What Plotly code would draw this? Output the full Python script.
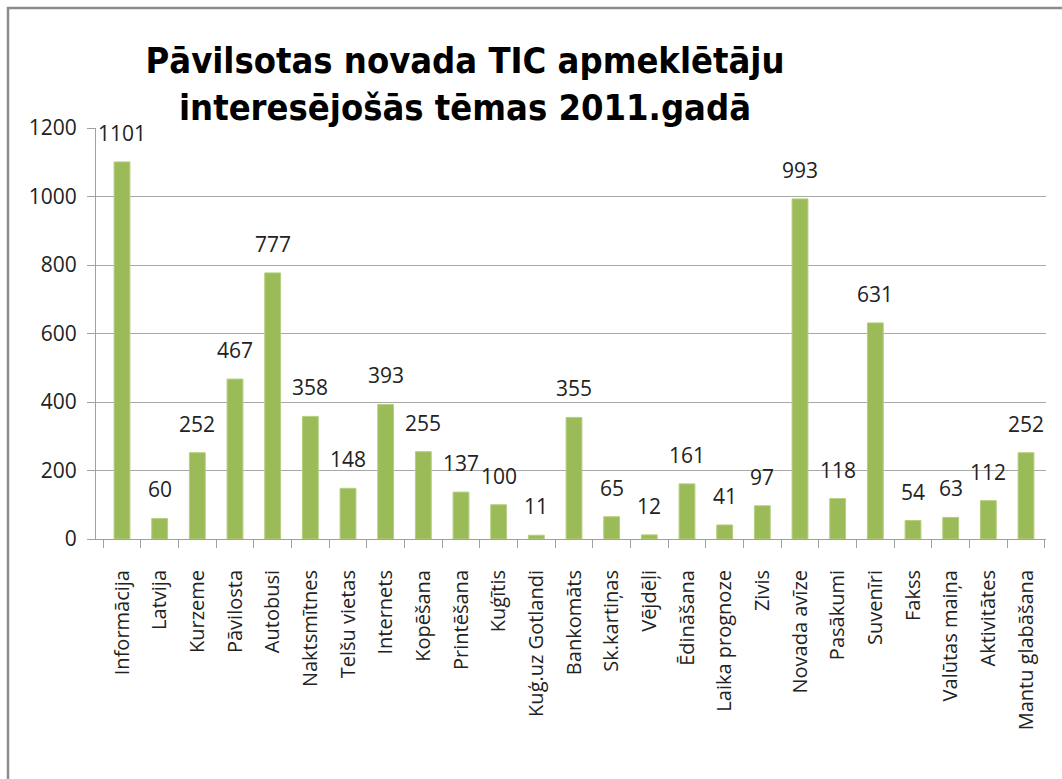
import plotly.graph_objects as go

categories = ["Informācija", "Latvija", "Kurzeme", "Pāvilosta", "Autobusi", "Naktsmītnes",
              "Telšu vietas", "Internets", "Kopēšana", "Printēšana", "Kuģītis",
              "Kuģ.uz Gotlandi", "Bankomāts", "Sk.kartiņas", "Vējdēļi", "Ēdināšana",
              "Laika prognoze", "Zivis", "Novada avīze", "Pasākumi", "Suvenīri", "Fakss",
              "Valūtas maiņa", "Aktivitātes", "Mantu glabāšana"]
values = [1101, 60, 252, 467, 777, 358, 148, 393, 255, 137, 100, 11, 355, 65, 12, 161,
          41, 97, 993, 118, 631, 54, 63, 112, 252]
y_ticks = [0, 200, 400, 600, 800, 1000, 1200]
title_text = "Pāvilsotas novada TIC apmeklētāju<br>interesējošās tēmas 2011.gadā"

W, H = 1062, 779
L, R, T, B = 96, 16, 128, 240
pw, ph = W - L - R, H - T - B

fig = go.Figure()
fig.add_trace(go.Bar(
    x=categories, y=values,
    marker=dict(color="#9BBB59", line=dict(width=1, color="#B5CF80")),
    hoverinfo="x+y",
))

for c, v in zip(categories, values):
    fig.add_annotation(x=c, y=v, text=str(v), showarrow=False, yanchor="bottom",
                       yshift=13, font=dict(family="Open Sans", size=21, color="#222"))

# outer chart frame
fig.add_shape(type="rect", xref="paper", yref="paper",
              x0=(8 - L) / pw, x1=(W + 20 - L) / pw,
              y0=-(H + 20 - (H - B)) / ph, y1=((H - B) - 8) / ph,
              line=dict(color="#8C8C8C", width=2.5), fillcolor="rgba(0,0,0,0)", layer="below")

fig.update_layout(
    width=W, height=H,
    margin=dict(l=L, r=R, t=T, b=B, autoexpand=False),
    paper_bgcolor="white", plot_bgcolor="white",
    bargap=0.58,
    showlegend=False,
    title=dict(text=title_text, x=465 / W, xanchor="center", xref="container",
               y=1 - 73 / H, yanchor="top", yref="container",
               font=dict(family="DejaVu Sans Condensed, Liberation Sans Narrow, Roboto Condensed, Roboto",
                         size=36, color="black", weight="bold")),
    xaxis=dict(type="category", tickangle=-90, tickson="boundaries", ticks="outside",
               ticklen=8, tickcolor="#A0A0A0", showline=True, linecolor="#A0A0A0",
               linewidth=1, showgrid=False, automargin=False, ticklabelstandoff=22,
               tickfont=dict(family="Open Sans", size=20, color="#222")),
    yaxis=dict(range=[0, 1200], tickvals=y_ticks, ticks="outside", ticklen=8,
               tickcolor="#A0A0A0", showline=True, linecolor="#A0A0A0", linewidth=1,
               showgrid=True, gridcolor="#A8A8A8", gridwidth=1, zeroline=False,
               automargin=False, ticklabelstandoff=6,
               tickfont=dict(family="Open Sans", size=21, color="#222")),
)

fig.write_html("out.html")
